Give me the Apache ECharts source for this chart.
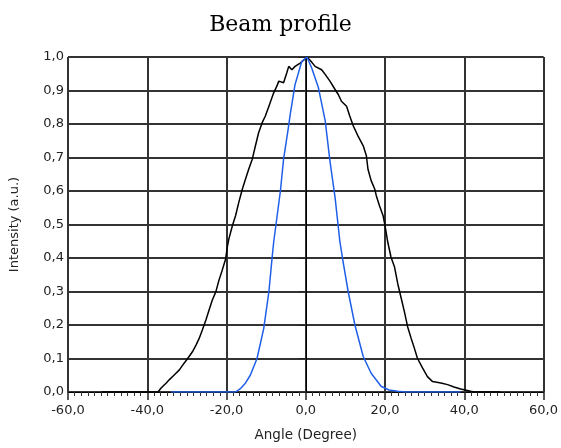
<!DOCTYPE html>
<html>
<head>
<meta charset="utf-8">
<script src="https://cdn.jsdelivr.net/npm/echarts@6/dist/echarts.min.js"></script>
<style>html,body{margin:0;padding:0;background:#fff;}#c{width:561px;height:448px;}</style>
</head>
<body>
<div id="c"></div>
<script>
const titleText = 'Beam profile';
const xName = 'Angle (Degree)';
const yName = 'Intensity (a.u.)';
const xTicks = [-60, -40, -20, 0, 20, 40, 60];
const yTicks = [0, 0.1, 0.2, 0.3, 0.4, 0.5, 0.6, 0.7, 0.8, 0.9, 1.0];

const blackX = [-51.5, -37.3, -36.5, -35.2, -34.4, -33.2, -31.9, -30.7, -29.8, -28.6, -27.7, -26.9, -26.1, -25.2, -24.4, -23.6, -22.7, -21.9, -21.1, -20.2, -19.8, -19.4, -18.5, -17.7, -16.9, -16.0, -15.2, -14.4, -13.5, -12.7, -11.9, -11.0, -10.2, -9.3, -8.1, -7.3, -6.8, -5.6, -4.8, -4.3, -3.5, -2.7, -1.4, -0.15, 0.3, 1.1, 2.35, 4.0, 4.9, 6.1, 7.4, 8.2, 9.0, 10.3, 11.1, 12.0, 13.2, 14.5, 15.3, 15.7, 16.5, 17.4, 17.8, 18.6, 19.5, 20.0, 20.7, 21.5, 22.4, 23.2, 24.1, 24.9, 25.7, 26.6, 27.4, 28.2, 29.5, 30.7, 32.0, 34.1, 35.8, 37.4, 39.1, 41.6, 42.5, 49.1];
const blackY = [0, 0, 0.012, 0.027, 0.037, 0.051, 0.066, 0.086, 0.10, 0.12, 0.14, 0.16, 0.185, 0.215, 0.245, 0.274, 0.299, 0.334, 0.363, 0.398, 0.433, 0.457, 0.497, 0.527, 0.566, 0.606, 0.636, 0.665, 0.695, 0.735, 0.774, 0.804, 0.824, 0.853, 0.893, 0.913, 0.928, 0.923, 0.952, 0.972, 0.962, 0.972, 0.982, 0.994, 1.0, 0.99, 0.972, 0.962, 0.948, 0.928, 0.903, 0.888, 0.868, 0.853, 0.824, 0.794, 0.764, 0.735, 0.705, 0.665, 0.631, 0.606, 0.586, 0.556, 0.527, 0.497, 0.447, 0.403, 0.373, 0.324, 0.279, 0.239, 0.195, 0.16, 0.131, 0.10, 0.071, 0.046, 0.031, 0.027, 0.022, 0.015, 0.009, 0.002, 0, 0];

const blueX = [-34.0, -17.7, -16.5, -15.2, -14, -12.3, -10.6, -9.3, -8.5, -8.1, -6.4, -5.6, -4.5, -3.9, -2.7, -1.0, 0.3, 1.5, 3.2, 4.9, 6.1, 7.4, 8.6, 9.4, 10.7, 12.4, 14.5, 16.5, 19.0, 21, 23.2, 25, 39.1];
const blueY = [0, 0, 0.01, 0.027, 0.05, 0.10, 0.19, 0.30, 0.40, 0.447, 0.60, 0.695, 0.78, 0.83, 0.918, 0.987, 1.0, 0.967, 0.908, 0.81, 0.69, 0.58, 0.45, 0.39, 0.30, 0.20, 0.106, 0.056, 0.017, 0.006, 0.002, 0, 0];

const blackData = blackX.map((x, i) => [x, blackY[i]]);
const blueData = blueX.map((x, i) => [x, blueY[i]]);
const fmt = v => v.toFixed(1).replace('.', ',');

const chart = echarts.init(document.getElementById('c'), null, {renderer: 'canvas'});
chart.setOption({
  animation: false,
  backgroundColor: '#fff',
  title: {
    text: titleText, left: 'center', top: 9,
    textStyle: {fontFamily: 'DejaVu Serif', fontSize: 22, fontWeight: 'normal', color: '#000'}
  },
  grid: {left: 68, right: 14, top: 57, bottom: 56, show: true, borderColor: '#000', borderWidth: 1, backgroundColor: 'transparent'},
  xAxis: {
    type: 'value', min: xTicks[0], max: xTicks[xTicks.length - 1], interval: 20,
    name: xName, nameLocation: 'middle', nameGap: 36,
    nameTextStyle: {fontFamily: 'DejaVu Sans', fontSize: 13.5, color: '#222'},
    axisLine: {show: true, lineStyle: {color: '#000', width: 1}},
    axisTick: {show: true, inside: false, length: 8, lineStyle: {color: '#222', width: 1.5}},
    minorTick: {show: true, splitNumber: 12, length: 4, lineStyle: {color: '#333', width: 1}},
    axisLabel: {formatter: fmt, fontFamily: 'DejaVu Sans', fontSize: 13, color: '#222', margin: 12},
    splitLine: {show: true, lineStyle: {color: '#333', width: 2}}
  },
  yAxis: {
    type: 'value', min: yTicks[0], max: yTicks[yTicks.length - 1], interval: 0.1,
    name: yName, nameLocation: 'middle', nameGap: 47,
    nameTextStyle: {fontFamily: 'DejaVu Sans', fontSize: 13, color: '#222'},
    axisLine: {show: true, lineStyle: {color: '#000', width: 1}},
    axisTick: {show: true, inside: false, length: 7, lineStyle: {color: '#222', width: 1}},
    axisLabel: {formatter: fmt, fontFamily: 'DejaVu Sans', fontSize: 13, color: '#222', margin: 4},
    splitLine: {show: true, lineStyle: {color: '#333', width: 2}}
  },
  series: [
    {type: 'line', data: blackData, showSymbol: false, lineStyle: {color: '#000', width: 1.5}, z: 3},
    {type: 'line', data: blueData, showSymbol: false, lineStyle: {color: '#1f5fe8', width: 1.5}, z: 4}
  ]
});
</script>
</body>
</html>
